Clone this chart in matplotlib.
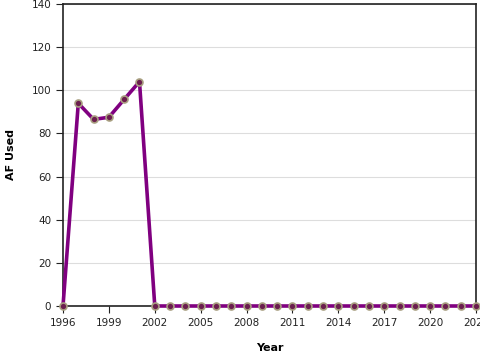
import matplotlib
matplotlib.use("Agg")
import matplotlib.pyplot as plt

years = list(range(1996, 2024))
af_used = [0, 94, 86.5, 87.5, 95.8, 104] + [0] * 22
x_ticks = list(range(1996, 2024, 3))
y_ticks = [0, 20, 40, 60, 80, 100, 120, 140]

fig = plt.figure(figsize=(4.8, 3.6), dpi=100)
ax = fig.add_axes([0.13125, 0.15, 0.8604, 0.8389])

ax.plot(years, af_used, color="#800080", lw=2.6, zorder=3, clip_on=False,
        marker="o", ms=5, mfc="#6b1e4e", mec="#a89f80", mew=1.2)

ax.set_xlim(1996, 2023)
ax.set_ylim(0, 140)
ax.set_xticks(x_ticks)
ax.set_yticks(y_ticks)
ax.grid(axis="y", color="#dddddd", lw=0.8)
ax.set_axisbelow(True)
for s in ax.spines.values():
    s.set_color("#222222")
    s.set_linewidth(1.2)
ax.tick_params(labelsize=7.5, length=5, width=0.8, color="#222222", labelcolor="#222222")

ax.set_xlabel("Year", fontsize=8, fontweight="bold")
ax.set_ylabel("AF Used", fontsize=8, fontweight="bold")
ax.xaxis.set_label_coords(0.5, -0.122)
ax.yaxis.set_label_coords(-0.115, 0.5)

fig.savefig("out.png", dpi=100)
